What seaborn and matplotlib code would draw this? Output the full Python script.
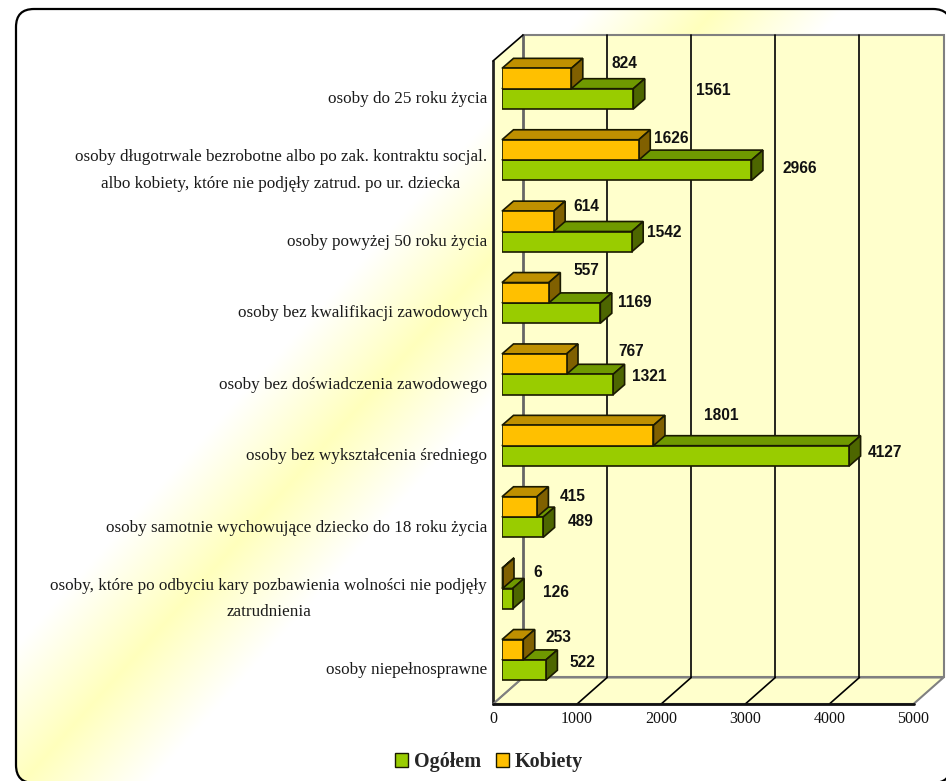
import numpy as np
import pandas as pd
import matplotlib
matplotlib.use('Agg')
import matplotlib.pyplot as plt
from matplotlib.patches import FancyBboxPatch, Polygon, Patch
import seaborn as sns

kategorie = [
    'osoby do 25 roku życia',
    'osoby długotrwale bezrobotne albo po zak. kontraktu socjal.\nalbo kobiety, które nie podjęły zatrud. po ur. dziecka',
    'osoby powyżej 50 roku życia',
    'osoby bez kwalifikacji zawodowych',
    'osoby bez doświadczenia zawodowego',
    'osoby bez wykształcenia średniego',
    'osoby samotnie wychowujące dziecko do 18 roku życia',
    'osoby, które po odbyciu kary pozbawienia wolności nie podjęły\nzatrudnienia',
    'osoby niepełnosprawne',
]
ogolem = [1561, 2966, 1542, 1169, 1321, 4127, 489, 126, 522]
kobiety = [824, 1626, 614, 557, 767, 1801, 415, 6, 253]
ticks_x = [0, 1000, 2000, 3000, 4000, 5000]

# przesuniecia etykiet w pikselach
off_ogolem = [(80, -8), (48, -2), (33, -9), (34, -11), (36, -8), (36, -3), (38, -6), (43, -6), (37, -8)]
off_kobiety = [(53, -15), (33, -11), (33, -15), (38, -22), (65, -13), (68, -20), (36, -10), (35, -6), (35, -12)]

W, H = 946, 781
ZIELONY = ['#99CC00', '#6F9900', '#4D6600']
POMARANCZ = ['#FFC000', '#BF9000', '#806000']
TLO = '#FFFFCC'
KRAWEDZ = '#1a1a00'

df = pd.DataFrame({
    'kat': kategorie * 2,
    'wart': ogolem + kobiety,
    'seria': ['Ogółem'] * 9 + ['Kobiety'] * 9,
})

sns.set_style('white')
plt.rcParams['font.family'] = ['Liberation Serif', 'DejaVu Sans']

fig = plt.figure(figsize=(W / 100, H / 100), dpi=100, facecolor='white')

# tlo: zaokraglona ramka z ukosnym gradientem, prawa i dolna krawedz poza obrazem
bg = fig.add_axes([0, 0, 1, 1], zorder=0)
bg.set_xlim(0, W)
bg.set_ylim(H, 0)
bg.axis('off')
xx, yy = np.meshgrid(np.arange(W), np.arange(H))
dist = np.abs((xx - 283) * 0.745 + (yy - 490) * 0.667)
sila = np.clip(1 - dist / 95, 0, 1)
rgba = np.ones((H, W, 4))
rgba[..., 2] = 1 - 0.26 * sila
img = bg.imshow(rgba, extent=(0, W, H, 0), aspect='auto', zorder=1)
# prawie przezroczyste wypelnienie, inaczej agg psuje krzywe poza plotnem
ramka = FancyBboxPatch((34, 27), 899, 738, boxstyle='round,pad=18,rounding_size=18',
                       fc=(1, 1, 1, 0.004), ec='black', lw=1.6, zorder=2, clip_on=True)
bg.add_patch(ramka)
img.set_clip_path(ramka)

# os wykresu: plaszczyzna, w ktorej stoja przednie sciany slupkow
PX = 84.1 / 1000
KROK = 71.4
GORA = 88.7 - KROK / 2
ax = fig.add_axes([502 / W, 1 - (GORA + 9 * KROK) / H, 5000 * PX / W, 9 * KROK / H], zorder=1)
ax.patch.set_alpha(0)

sns.barplot(data=df, y='kat', x='wart', hue='seria', hue_order=['Kobiety', 'Ogółem'],
            palette={'Ogółem': ZIELONY[0], 'Kobiety': POMARANCZ[0]}, orient='h',
            width=0.57, gap=0, edgecolor=KRAWEDZ, linewidth=1.2, legend=False,
            saturation=1, ax=ax, zorder=5)
ax.set_xlim(0, 5000)
ax.set_ylim(8.5, -0.5)
ax.axis('off')


def dx(px):
    return px / PX


def dy(px):
    return px / KROK


def y_px(py):
    return -0.5 + (py - GORA) / KROK


# sciany: tylna, lewa i podloga
y_gora = y_px(35)
y_gora_p = y_px(61)
y_dol = y_px(677.5)
y_dol_p = y_px(704)
x_t = dx(21)
x_p = dx(-9)
szary = '#808080'
ax.add_patch(Polygon([(x_t, y_gora), (5000 + x_t, y_gora), (5000 + x_t, y_dol), (x_t, y_dol)],
                     fc=TLO, ec=szary, lw=1.5, clip_on=False, zorder=1))
ax.add_patch(Polygon([(x_p, y_gora_p), (x_t, y_gora), (x_t, y_dol), (x_p, y_dol_p)],
                     fc=TLO, ec='none', clip_on=False, zorder=1))
ax.add_patch(Polygon([(x_p, y_dol_p), (x_t, y_dol), (5000 + x_t, y_dol), (5000 + x_p, y_dol_p)],
                     fc=TLO, ec=szary, lw=1.5, clip_on=False, zorder=1))
for t in ticks_x:
    if 0 < t < 5000:
        ax.plot([t + x_t, t + x_t], [y_gora, y_dol], color='black', lw=1.2, clip_on=False, zorder=2)
        ax.plot([t + x_p, t + x_t], [y_dol_p, y_dol], color='black', lw=1.2, clip_on=False, zorder=2)
    ax.text(t + x_p, y_dol_p + dy(15.5), str(t), ha='center', va='center', fontsize=11.5, color='#111111')
ax.plot([x_t, x_t], [y_gora, y_dol], color='#666666', lw=2, clip_on=False, zorder=2)
ax.plot([x_p, x_p], [y_gora_p, y_dol_p], color='#222222', lw=2, clip_on=False, zorder=3)
ax.plot([x_p, x_t], [y_gora_p, y_gora], color='black', lw=1.2, clip_on=False, zorder=3)
ax.plot([x_p, x_t], [y_dol_p, y_dol], color=szary, lw=1.2, clip_on=False, zorder=3)
ax.plot([x_p, 5000 + x_p], [y_dol_p, y_dol_p], color='#111111', lw=2, clip_on=False, zorder=3)

# trzeci wymiar slupkow, liczony z prostokatow narysowanych przez seaborn
gleb_x, gleb_y = dx(11.5), dy(10)
for kont, kolory, z in zip(ax.containers, [POMARANCZ, ZIELONY], [7, 5]):
    for b in kont:
        x1 = b.get_width()
        yg = b.get_y()
        yd = b.get_y() + b.get_height()
        b.set_zorder(z + 0.2)
        ax.add_patch(Polygon([(0, yg), (gleb_x, yg - gleb_y), (x1 + gleb_x, yg - gleb_y), (x1, yg)],
                             fc=kolory[1], ec=KRAWEDZ, lw=1.2, clip_on=False, zorder=z))
        ax.add_patch(Polygon([(x1, yg), (x1 + gleb_x, yg - gleb_y), (x1 + gleb_x, yd - gleb_y), (x1, yd)],
                             fc=kolory[2], ec=KRAWEDZ, lw=1.2, clip_on=False, zorder=z))

# etykiety wartosci
szer = 0.57 / 2
for i in range(len(kategorie)):
    for wart, off, znak in [(ogolem[i], off_ogolem[i], 1), (kobiety[i], off_kobiety[i], -1)]:
        ax.annotate(str(wart), (wart, i + znak * szer / 2), xytext=(off[0], -off[1]),
                    textcoords='offset pixels', ha='center', va='center', fontsize=11.2,
                    fontweight='bold', family='Liberation Sans', color='#111111',
                    annotation_clip=False, zorder=9)
    # etykiety kategorii
    ax.annotate(kategorie[i], (0, i), xytext=(-15, -10.5), textcoords='offset pixels',
                ha='right', va='center', multialignment='center', fontsize=12.3,
                linespacing=1.9, color='#1a1a1a', annotation_clip=False)

# legenda
uchwyty = [Patch(fc=ZIELONY[0], ec=KRAWEDZ, label='Ogółem'), Patch(fc=POMARANCZ[0], ec=KRAWEDZ, label='Kobiety')]
bg.legend(handles=uchwyty, loc='center', bbox_to_anchor=(489 / W, 1 - 762 / H), bbox_transform=fig.transFigure,
          ncol=2, frameon=False, handlelength=0.65, handleheight=0.65, handletextpad=0.3, columnspacing=0.75,
          prop={'family': 'Liberation Serif', 'weight': 'bold', 'size': 14.5})

fig.savefig('out.png', dpi=100)
